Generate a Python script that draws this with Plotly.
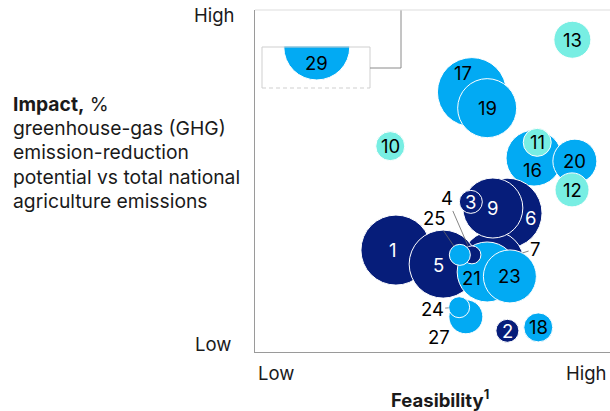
import plotly.graph_objects as go

# ---- data (feasibility 0-100, impact 0-100, bubble size) in drawing order ----
ids =         ["17", "19", "16", "20", "12", "11", "6",  "7",  "9",  "3",  "1",  "5",  "21", "23", "4",  "25", "27", "24", "10", "13", "2",  "18", "29"]
feasibility = [61.1, 65.4, 78.6, 90.1, 89.3, 79.5, 71.0, 67.0, 67.0, 60.8, 39.7, 53.0, 65.4, 71.8, 61.1, 57.7, 59.4, 57.5, 38.1, 89.4, 71.1, 79.8, 17.4]
impact =      [76.0, 71.3, 56.7, 55.8, 47.4, 61.3, 40.6, 26.3, 42.1, 43.9, 29.8, 25.7, 23.4, 22.1, 28.4, 28.4, 10.3, 13.1, 60.2, 91.3, 6.2,  7.2,  89.2]
size =        [69,   59,   56,   44,   34,   28,   70,   62,   60,   23,   70,   68,   60,   53,   18,   21,   34,   21,   29,   37,   23,   29,   66]
group =       ["b",  "b",  "b",  "b",  "t",  "t",  "n",  "n",  "n",  "n",  "n",  "n",  "b",  "b",  "n",  "b",  "b",  "b",  "t",  "t",  "n",  "b",  "b"]

# label positions (same units) where label is not at the bubble centre
label_pos = {
    "17": (58.6, 81.6), "21": (61.0, 21.5), "16": (78.3, 53.2), "6": (77.5, 39.2),
    "1": (38.9, 29.8), "5": (51.6, 25.4), "29": (17.4, 84.5),
}
# external labels with leader lines
external = {"4": (54.2, 44.9), "25": (50.7, 39.1), "7": (78.9, 30.1), "24": (49.9, 12.6), "27": (51.8, 4.5)}
leader = ["4", "25", "7", "24"]

colors = {"n": "#061d7a", "b": "#02aaf3", "t": "#78eee3"}
text_colors = {"n": "white", "b": "black", "t": "black"}

FONT = "Inter, Liberation Sans, Arial, sans-serif"
W, H = 610, 411
L, R, T, B = 255, 0, 10, 59
PW, PH = W - L - R, H - T - B

fig = go.Figure()
fig.add_trace(go.Scatter(
    x=feasibility, y=impact, mode="markers",
    marker=dict(size=size, sizemode="diameter", color=[colors[g] for g in group],
                opacity=1, line=dict(color="white", width=1)),
    hoverinfo="skip", showlegend=False, cliponaxis=False,
))

annotations = []
for i, lab in enumerate(ids):
    g = group[i]
    r = size[i] / 2
    if lab in external:
        lx, ly = external[lab]
        if lab in leader:
            annotations.append(dict(
                x=feasibility[i], y=impact[i], ax=lx, ay=ly, axref="x", ayref="y",
                xref="x", yref="y", text=lab, showarrow=True, arrowhead=0,
                arrowwidth=0.8, arrowcolor="#666666", standoff=r,
                font=dict(family=FONT, size=18.5, color="black")))
        else:
            annotations.append(dict(x=lx, y=ly, xref="x", yref="y", text=lab, showarrow=False,
                                    font=dict(family=FONT, size=18.5, color="black")))
    else:
        lx, ly = label_pos.get(lab, (feasibility[i], impact[i]))
        annotations.append(dict(x=lx, y=ly, xref="x", yref="y", text=lab, showarrow=False,
                                font=dict(family=FONT, size=18.5, color=text_colors[g])))

def px(xp):
    return (xp - L) / PW
def py(yp):
    return (H - B - yp) / PH

def txt(x, y, s, anchor="left", size=18.5):
    annotations.append(dict(x=px(x), y=py(y), xref="paper", yref="paper", text=s,
                            showarrow=False, xanchor=anchor, yanchor="middle",
                            font=dict(family=FONT, size=size, color="#1a1a1a")))

title_lines = ["<b>Impact,</b> %", "greenhouse-gas (GHG)", "emission-reduction",
               "potential vs total national", "agriculture emissions"]
for k, s in enumerate(title_lines):
    txt(11, 104 + k * 24.2, s, size=19.3)

txt(237, 15, "High", "right")
txt(233, 344, "Low", "right")
txt(256, 373, "Low", "left")
txt(609, 373, "High", "right")
txt(440, 398, "<b>Feasibility<sup>1</sup></b>", "center")

shapes = []
# cover upper half of callout bubble 29
shapes.append(dict(type="rect", xref="paper", yref="paper", x0=px(280), x1=px(356), y0=py(46.6), y1=py(11),
                   fillcolor="white", line=dict(width=0), layer="above"))
# callout box
grey = "#cfcfcf"
shapes.append(dict(type="line", xref="paper", yref="paper", x0=px(262), x1=px(370), y0=py(47), y1=py(47), line=dict(color=grey, width=1), layer="above"))
shapes.append(dict(type="line", xref="paper", yref="paper", x0=px(262), x1=px(262), y0=py(47), y1=py(88), line=dict(color=grey, width=1), layer="above"))
shapes.append(dict(type="line", xref="paper", yref="paper", x0=px(370), x1=px(370), y0=py(47), y1=py(88), line=dict(color=grey, width=1), layer="above"))
shapes.append(dict(type="line", xref="paper", yref="paper", x0=px(262), x1=px(370), y0=py(88), y1=py(88), line=dict(color=grey, width=1, dash="4px,3px"), layer="above"))
# connector
shapes.append(dict(type="path", xref="paper", yref="paper",
                   path=f"M {px(370)},{py(68)} L {px(401)},{py(68)} L {px(401)},{py(10)}",
                   line=dict(color="#8a8a8a", width=1), layer="above"))
# top light border
shapes.append(dict(type="line", xref="paper", yref="paper", x0=0, x1=1, y0=1, y1=1,
                   line=dict(color="#dddddd", width=1), layer="above"))

fig.update_layout(
    width=W, height=H, margin=dict(l=L, r=R, t=T, b=B),
    paper_bgcolor="white", plot_bgcolor="white",
    xaxis=dict(range=[0, 100], showgrid=False, zeroline=False, showticklabels=False,
               showline=True, linecolor="#9a9a9a", linewidth=1.2, fixedrange=True),
    yaxis=dict(range=[0, 100], showgrid=False, zeroline=False, showticklabels=False,
               showline=True, linecolor="#9a9a9a", linewidth=1.2, fixedrange=True),
    annotations=annotations, shapes=shapes, showlegend=False,
)

fig.write_html("out.html")
